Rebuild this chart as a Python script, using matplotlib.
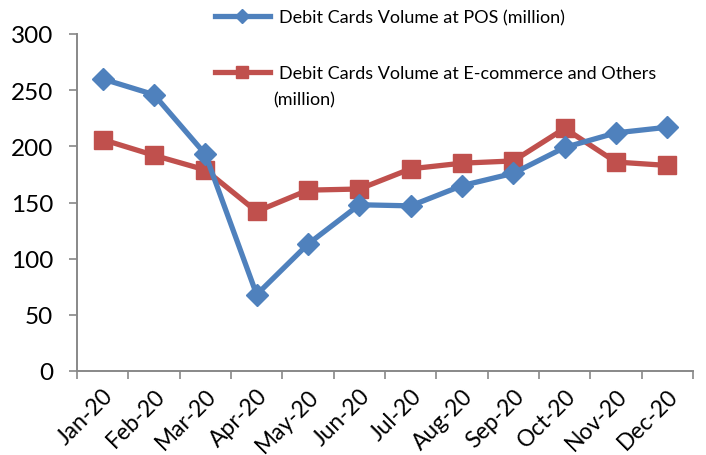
import matplotlib
matplotlib.use("Agg")
import matplotlib.pyplot as plt
from matplotlib.lines import Line2D
import numpy as np

plt.rcParams['font.family'] = ['Lato', 'DejaVu Sans']

months = ["Jan-20", "Feb-20", "Mar-20", "Apr-20", "May-20", "Jun-20",
          "Jul-20", "Aug-20", "Sep-20", "Oct-20", "Nov-20", "Dec-20"]
pos_volume = [260, 246, 193, 68, 113, 148, 147, 165, 176, 199, 212, 217]
ecom_volume = [206, 192, 179, 142, 161, 162, 180, 185, 187, 216, 186, 183]
label_pos = "Debit Cards Volume at POS (million)"
label_ecom_1 = "Debit Cards Volume at E-commerce and Others"
label_ecom_2 = "(million)"

blue = "#4F81BD"
red = "#C0504D"
grey = "#888888"

fig = plt.figure(figsize=(7.06, 4.56), dpi=100)
ax = fig.add_axes([77/706, 1-372/456, (693-77)/706, (372-35)/456])

x = np.arange(len(months))
ax.plot(x, pos_volume, color=blue, lw=3.8, marker='D', markersize=11, zorder=3)
ax.plot(x, ecom_volume, color=red, lw=3.8, marker='s', markersize=13.5, zorder=2)

ax.set_xlim(-0.5, len(months) - 0.5)
ax.set_ylim(0, 300)
ax.set_yticks(np.arange(0, 301, 50))
ax.tick_params(axis='y', labelsize=17.5, length=6, width=1.2, color=grey, direction='out', pad=11)
ax.set_xticks(x)
ax.set_xticklabels(months, rotation=45, ha='right', rotation_mode='anchor', fontsize=16.5)
ax.tick_params(axis='x', length=0, pad=10)
ax.set_xticks(np.arange(-0.5, len(months)), minor=True)
ax.tick_params(axis='x', which='minor', length=6, width=1.2, color=grey, direction='out')

for s in ['top', 'right']:
    ax.spines[s].set_visible(False)
for s in ['left', 'bottom']:
    ax.spines[s].set_color(grey)
    ax.spines[s].set_linewidth(1.4)

# legend (manual)
def fx(px):
    return px / 706
def fy(py):
    return 1 - py / 456

l1 = Line2D([fx(215), fx(242), fx(270)], [fy(17)] * 3, color=blue, lw=3.8,
            marker='D', markersize=7, markevery=[1], transform=fig.transFigure)
l2 = Line2D([fx(215), fx(242), fx(270)], [fy(73)] * 3, color=red, lw=3.8,
            marker='s', markersize=9, markevery=[1], transform=fig.transFigure)
fig.add_artist(l1)
fig.add_artist(l2)
fig.text(fx(279), fy(18), label_pos, fontsize=13, va='center', ha='left')
fig.text(fx(279), fy(74), label_ecom_1, fontsize=13, va='center', ha='left')
fig.text(fx(273), fy(100), label_ecom_2, fontsize=13, va='center', ha='left')

fig.savefig("out.png", dpi=100)
